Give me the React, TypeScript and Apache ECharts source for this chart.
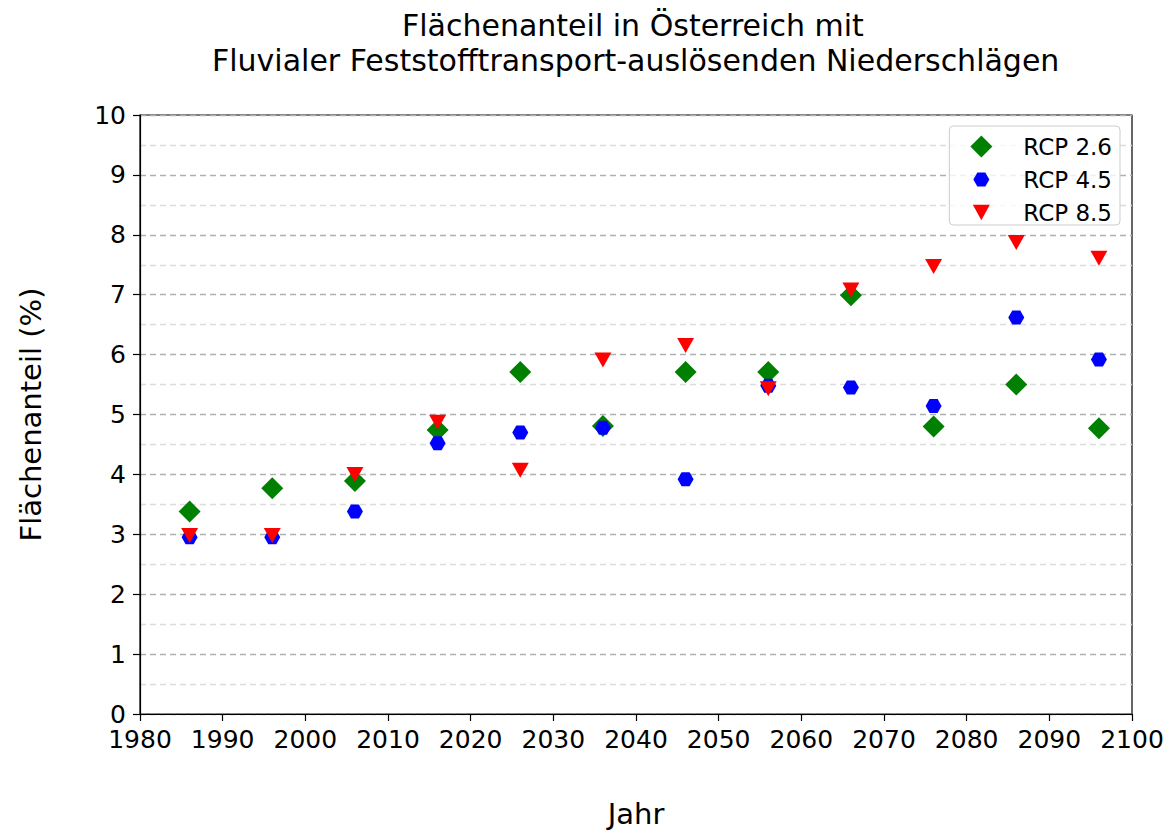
import React, { useEffect, useRef } from "react";
import * as echarts from "echarts";

const years = [1986, 1996, 2006, 2016, 2026, 2036, 2046, 2056, 2066, 2076, 2086, 2096];
const rcp26 = [3.38, 3.77, 3.89, 4.74, 5.71, 4.81, 5.71, 5.71, 6.99, 4.8, 5.5, 4.77];
const rcp45 = [2.95, 2.95, 3.38, 4.52, 4.7, 4.78, 3.92, 5.48, 5.45, 5.14, 6.62, 5.92];
const rcp85 = [2.98, 2.98, 4.0, 4.87, 4.07, 5.91, 6.15, 5.43, 7.08, 7.47, 7.87, 7.61];
const seriesNames = ["RCP 2.6", "RCP 4.5", "RCP 8.5"];
const titleLines = [
  "Flächenanteil in Österreich mit",
  "Fluvialer Feststofftransport-auslösenden Niederschlägen",
];

const HEX = "path://M0,50 L25,6.7 L75,6.7 L100,50 L75,93.3 L25,93.3 Z";
const TRI_DOWN = "path://M0,0 L100,0 L50,90 Z";
// legend icons: same shapes with invisible padding so they keep the plot marker size
const HEX_LEGEND =
  "path://M-18.75,-18.75 M118.75,118.75 M0,50 L25,6.7 L75,6.7 L100,50 L75,93.3 L25,93.3 Z";
const TRI_LEGEND = "path://M-14.7,-19.7 M114.7,109.7 M0,0 L100,0 L50,90 Z";

const FONT = "DejaVu Sans";

export default function App() {
  const ref = useRef<HTMLDivElement>(null);
  useEffect(() => {
    if (!ref.current) return;
    const chart = echarts.init(ref.current, undefined, { renderer: "svg" });
    const toPts = (vals: number[]) => years.map((y, i) => [y, vals[i]]);
    const titleStyle = {
      fontFamily: FONT,
      fontSize: 30,
      fontWeight: "normal",
      color: "#000",
      lineHeight: 35,
    };
    chart.setOption({
      animation: false,
      backgroundColor: "#ffffff",
      textStyle: { fontFamily: FONT },
      title: [
        { text: titleLines[0], left: 402, top: 8, padding: 0, textStyle: titleStyle },
        { text: titleLines[1], left: 212, top: 43, padding: 0, textStyle: titleStyle },
      ],
      legend: {
        orient: "vertical",
        right: 53,
        top: 126,
        itemWidth: 22,
        itemHeight: 22,
        itemGap: 10,
        padding: [9, 8, 1, 21],
        borderColor: "#cccccc",
        borderWidth: 1,
        borderRadius: 4,
        backgroundColor: "rgba(255,255,255,0.8)",
        textStyle: { fontFamily: FONT, fontSize: 23, color: "#000", padding: [0, 0, 0, 26] },
        data: [
          { name: seriesNames[0], icon: "diamond" },
          { name: seriesNames[1], icon: HEX_LEGEND },
          { name: seriesNames[2], icon: TRI_LEGEND },
        ],
      },
      grid: {
        left: 140,
        top: 115,
        width: 992,
        height: 599,
        containLabel: false,
        outerBoundsMode: "none",
        show: true,
        borderColor: "#000",
        borderWidth: 1.2,
        backgroundColor: "transparent",
      },
      xAxis: {
        type: "value",
        min: 1980,
        max: 2100,
        interval: 10,
        name: "Jahr",
        nameLocation: "middle",
        nameGap: 85,
        nameTextStyle: { fontFamily: FONT, fontSize: 29, color: "#000" },
        axisLine: { show: true, lineStyle: { color: "#000", width: 1.2 } },
        axisTick: { show: true, inside: false, length: 7, lineStyle: { color: "#000", width: 1.2 } },
        axisLabel: {
          fontFamily: FONT,
          fontSize: 25,
          lineHeight: 20,
          color: "#000",
          margin: 15,
          formatter: (v: number) => String(v),
        },
        splitLine: { show: false },
      },
      yAxis: {
        type: "value",
        min: 0,
        max: 10,
        interval: 1,
        name: "Flächenanteil (%)",
        nameLocation: "middle",
        nameGap: 95,
        nameTextStyle: { fontFamily: FONT, fontSize: 29, color: "#000" },
        axisLine: { show: true, lineStyle: { color: "#000", width: 1.2 } },
        axisTick: { show: true, inside: false, length: 7, lineStyle: { color: "#000", width: 1.2 } },
        axisLabel: { fontFamily: FONT, fontSize: 25, lineHeight: 18, color: "#000", margin: 14 },
        splitLine: { show: true, lineStyle: { color: "#b0b0b0", type: [6, 4], width: 1.3 } },
        minorTick: { show: false, splitNumber: 2 },
        minorSplitLine: { show: true, lineStyle: { color: "#dcdcdc", type: [6, 4], width: 1.3 } },
      },
      series: [
        {
          name: seriesNames[0],
          type: "scatter",
          symbol: "diamond",
          symbolSize: [22, 22],
          itemStyle: { color: "#008000", opacity: 1 },
          data: toPts(rcp26),
          z: 2,
        },
        {
          name: seriesNames[1],
          type: "scatter",
          symbol: HEX,
          symbolSize: [16, 14],
          itemStyle: { color: "#0000ff", opacity: 1 },
          data: toPts(rcp45),
          z: 3,
        },
        {
          name: seriesNames[2],
          type: "scatter",
          symbol: TRI_DOWN,
          symbolSize: [17, 15],
          itemStyle: { color: "#ff0000", opacity: 1 },
          data: toPts(rcp85),
          z: 4,
        },
      ],
    });
    return () => chart.dispose();
  }, []);
  return (
    <div
      ref={ref}
      style={{ position: "fixed", left: 0, top: 0, width: 1173, height: 832 }}
    />
  );
}
